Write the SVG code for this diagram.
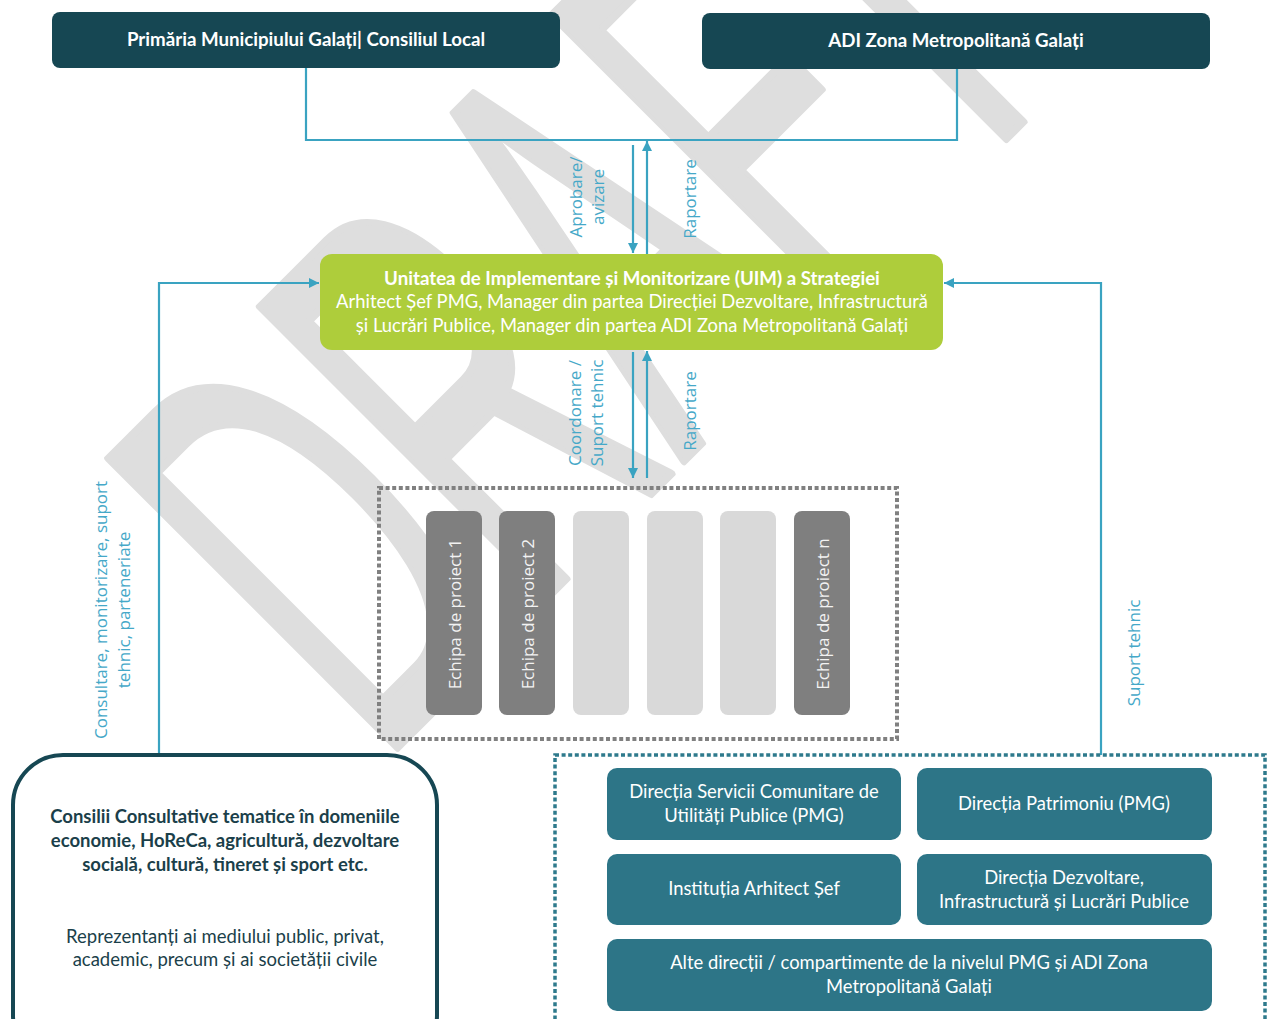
<svg xmlns="http://www.w3.org/2000/svg" width="1269" height="1019" viewBox="0 0 1269 1019">
<defs>
<style>
.wm{font-family:"Liberation Sans",Arial,sans-serif;font-weight:normal;fill:#dedede;stroke:#dedede;stroke-width:8;stroke-linejoin:round;}
.dark{fill:#164753;}
.teal{fill:#2d7587;}
.t-w{font-family:Lato,"Open Sans",sans-serif;fill:#ffffff;text-anchor:middle;font-size:18.4px;}
.b{font-weight:bold;font-size:18.7px;}
.t-d{font-family:Lato,"Open Sans",sans-serif;fill:#1b3f4a;text-anchor:middle;font-size:18.5px;}
.lbl{font-family:"Open Sans","Noto Sans",sans-serif;fill:#45a8c8;text-anchor:middle;font-size:17px;}
.bar-d{fill:#7f7f7f;}
.bar-l{fill:#d9d9d9;}
.bt{font-family:"Open Sans","Noto Sans",sans-serif;fill:#f2f2f2;text-anchor:middle;font-size:17px;}
.con{fill:none;stroke:#3aa3c1;stroke-width:2.2;}
</style>
<marker id="ah" viewBox="0 0 10 10" refX="10" refY="5" markerWidth="11" markerHeight="10" markerUnits="userSpaceOnUse" orient="auto">
<path d="M0,0 L10,5 L0,10 z" fill="#3aa3c1"/>
</marker>
</defs>
<rect width="1269" height="1019" fill="#ffffff"/>
<g id="watermark">
<text class="wm" font-size="594" transform="translate(379,766) rotate(-45) scale(0.5,1)">DRAFT</text>
</g>
<g id="connectors">
<path class="con" d="M306,68 V140 H957 V68"/>
<line class="con" x1="633" y1="145" x2="633" y2="253" marker-end="url(#ah)"/>
<line class="con" x1="647" y1="254" x2="647" y2="141" marker-end="url(#ah)"/>
<line class="con" x1="633" y1="352" x2="633" y2="478" marker-end="url(#ah)"/>
<line class="con" x1="647" y1="478" x2="647" y2="351" marker-end="url(#ah)"/>
<path class="con" d="M159,755 V283 H319" marker-end="url(#ah)"/>
<path class="con" d="M1101,755 V283 H944" marker-end="url(#ah)"/>
<text class="lbl" transform="translate(582,197) rotate(-90)">Aprobare/</text>
<text class="lbl" transform="translate(604,197) rotate(-90)">avizare</text>
<text class="lbl" transform="translate(696,199) rotate(-90)">Raportare</text>
<text class="lbl" transform="translate(581,413) rotate(-90)">Coordonare /</text>
<text class="lbl" transform="translate(603,413) rotate(-90)">Suport tehnic</text>
<text class="lbl" transform="translate(696,411) rotate(-90)">Raportare</text>
<text class="lbl" transform="translate(107,610) rotate(-90)">Consultare, monitorizare, suport</text>
<text class="lbl" transform="translate(130,610) rotate(-90)">tehnic, parteneriate</text>
<text class="lbl" transform="translate(1140,653) rotate(-90)">Suport tehnic</text>
</g>
<g id="primaria">
<rect class="dark" x="52" y="12" width="508" height="56" rx="8"/>
<text class="t-w b" x="306" y="46">Primăria Municipiului Galați| Consiliul Local</text>
</g>
<g id="adi">
<rect class="dark" x="702" y="13" width="508" height="56" rx="8"/>
<text class="t-w b" x="956" y="47">ADI Zona Metropolitană Galați</text>
</g>
<g id="uim">
<rect x="320" y="254" width="623" height="96" rx="12" fill="#aecd3b"/>
<text class="t-w b" x="632" y="285">Unitatea de Implementare și Monitorizare (UIM) a Strategiei</text>
<text class="t-w" x="632" y="308">Arhitect Șef PMG, Manager din partea Direcției Dezvoltare, Infrastructură</text>
<text class="t-w" x="632" y="332">și Lucrări Publice, Manager din partea ADI Zona Metropolitană Galați</text>
</g>
<g id="echipe">
<rect x="379" y="488" width="518" height="251" fill="none" stroke="#808080" stroke-width="4" stroke-dasharray="4 2.6"/>
<g id="echipa1">
<rect class="bar-d" x="426" y="511" width="56" height="204" rx="8"/>
<text class="bt" transform="translate(461,614) rotate(-90)">Echipa de proiect 1</text>
</g>
<g id="echipa2">
<rect class="bar-d" x="499" y="511" width="56" height="204" rx="8"/>
<text class="bt" transform="translate(534,614) rotate(-90)">Echipa de proiect 2</text>
</g>
<rect class="bar-l" x="573" y="511" width="56" height="204" rx="8"/>
<rect class="bar-l" x="647" y="511" width="56" height="204" rx="8"/>
<rect class="bar-l" x="720" y="511" width="56" height="204" rx="8"/>
<g id="echipan">
<rect class="bar-d" x="794" y="511" width="56" height="204" rx="8"/>
<text class="bt" transform="translate(829,614) rotate(-90)">Echipa de proiect n</text>
</g>
</g>
<g id="consilii">
<rect x="13" y="755" width="424" height="310" rx="50" fill="#ffffff" stroke="#164753" stroke-width="4"/>
<text class="t-d b" x="225" y="823">Consilii Consultative tematice în domeniile</text>
<text class="t-d b" x="225" y="847">economie, HoReCa, agricultură, dezvoltare</text>
<text class="t-d b" x="225" y="871">socială, cultură, tineret și sport etc.</text>
<text class="t-d" x="225" y="943">Reprezentanți ai mediului public, privat,</text>
<text class="t-d" x="225" y="966">academic, precum și ai societății civile</text>
</g>
<g id="directii">
<rect x="555" y="755" width="710" height="300" fill="none" stroke="#2e7a8c" stroke-width="3.5" stroke-dasharray="4 2.6"/>
<g id="dscup">
<rect class="teal" x="607" y="768" width="294" height="72" rx="10"/>
<text class="t-w" x="754" y="798">Direcția Servicii Comunitare de</text>
<text class="t-w" x="754" y="822">Utilități Publice (PMG)</text>
</g>
<g id="patrimoniu">
<rect class="teal" x="917" y="768" width="295" height="72" rx="10"/>
<text class="t-w" x="1064" y="810">Direcția Patrimoniu (PMG)</text>
</g>
<g id="arhitect">
<rect class="teal" x="607" y="854" width="294" height="71" rx="10"/>
<text class="t-w" x="754" y="895">Instituția Arhitect Șef</text>
</g>
<g id="ddilp">
<rect class="teal" x="917" y="854" width="295" height="71" rx="10"/>
<text class="t-w" x="1064" y="884">Direcția Dezvoltare,</text>
<text class="t-w" x="1064" y="908">Infrastructură și Lucrări Publice</text>
</g>
<g id="alte">
<rect class="teal" x="607" y="939" width="605" height="72" rx="10"/>
<text class="t-w" x="909" y="969">Alte direcții / compartimente de la nivelul PMG și ADI Zona</text>
<text class="t-w" x="909" y="993">Metropolitană Galați</text>
</g>
</g>
</svg>
